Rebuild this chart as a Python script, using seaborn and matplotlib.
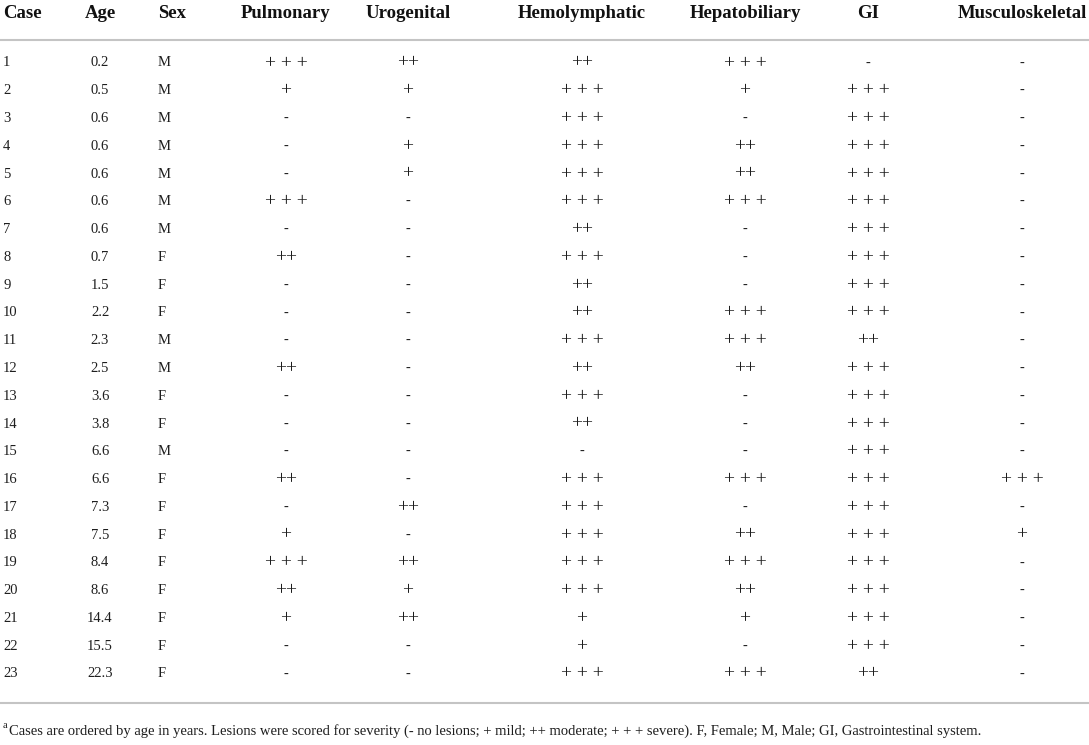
# plot.py
"""Lesion severity table by case, drawn as text on a blank seaborn canvas."""

import pandas as pd
import seaborn as sns
import matplotlib.pyplot as plt

# table data
cases = list(range(1, 24))
ages = [0.2, 0.5, 0.6, 0.6, 0.6, 0.6, 0.6, 0.7, 1.5, 2.2, 2.3, 2.5,
        3.6, 3.8, 6.6, 6.6, 7.3, 7.5, 8.4, 8.6, 14.4, 15.5, 22.3]
sexes = ['M', 'M', 'M', 'M', 'M', 'M', 'M', 'F', 'F', 'F', 'M', 'M',
         'F', 'F', 'M', 'F', 'F', 'F', 'F', 'F', 'F', 'F', 'F']
# severity scores: 0 none, 1 mild, 2 moderate, 3 severe
pulmonary = [3, 1, 0, 0, 0, 3, 0, 2, 0, 0, 0, 2, 0, 0, 0, 2, 0, 1, 3, 2, 1, 0, 0]
urogenital = [2, 1, 0, 1, 1, 0, 0, 0, 0, 0, 0, 0, 0, 0, 0, 0, 2, 0, 2, 1, 2, 0, 0]
hemolymphatic = [2, 3, 3, 3, 3, 3, 2, 3, 2, 2, 3, 2, 3, 2, 0, 3, 3, 3, 3, 3, 1, 1, 3]
hepatobiliary = [3, 1, 0, 2, 2, 3, 0, 0, 0, 3, 3, 2, 0, 0, 0, 3, 0, 2, 3, 2, 1, 0, 3]
gi = [0, 3, 3, 3, 3, 3, 3, 3, 3, 3, 2, 3, 3, 3, 3, 3, 3, 3, 3, 3, 3, 3, 2]
musculoskeletal = [0] * 15 + [3, 0, 1] + [0] * 5

headers = ['Case', 'Age', 'Sex', 'Pulmonary', 'Urogenital', 'Hemolymphatic',
           'Hepatobiliary', 'GI', 'Musculoskeletal']
footnote = ('Cases are ordered by age in years. Lesions were scored for severity '
            '(- no lesions; + mild; ++ moderate; + + + severe). F, Female; M, Male; '
            'GI, Gastrointestinal system.')

symbols = {0: '-', 1: '+', 2: '++', 3: '+ + +'}

df = pd.DataFrame({
    'Case': cases, 'Age': ages, 'Sex': sexes, 'Pulmonary': pulmonary,
    'Urogenital': urogenital, 'Hemolymphatic': hemolymphatic,
    'Hepatobiliary': hepatobiliary, 'GI': gi, 'Musculoskeletal': musculoskeletal,
})

# layout (pixel units of a 1089 x 745 canvas)
col_x = [3, 100, 158, 286, 408, 582, 745, 868, 1022]
col_ha = ['left', 'center', 'left'] + ['center'] * 6
header_y = 14
first_row_y = 63
row_step = 27.77
line_color = '#c4c4c4'
text_color = '#1e1e1e'

sns.set_theme(style='white')
plt.rcParams['font.family'] = ['Liberation Serif', 'DejaVu Serif']

fig = plt.figure(figsize=(10.89, 7.45), dpi=100)
ax = fig.add_axes([0, 0, 1, 1])
ax.set_xlim(0, 1089)
ax.set_ylim(745, 0)
ax.axis('off')

# header row
for x, ha, name in zip(col_x, col_ha, headers):
    ax.text(x, header_y, name, ha=ha, va='center', fontsize=13.5,
            fontweight='bold', color='#111111')

ax.axhline(40, color=line_color, lw=1.5)

# body rows
for i, row in df.iterrows():
    y = first_row_y + i * row_step
    ax.text(col_x[0], y, str(row['Case']), ha='left', va='center',
            fontsize=10.5, color=text_color)
    ax.text(col_x[1], y, f"{row['Age']:.1f}", ha='center', va='center',
            fontsize=10.5, color=text_color)
    ax.text(col_x[2], y, row['Sex'], ha='left', va='center',
            fontsize=10.5, color=text_color)
    for x, name in zip(col_x[3:], headers[3:]):
        score = row[name]
        size = 14 if score > 0 else 10.5
        ax.text(x, y, symbols[score], ha='center', va='center',
                fontsize=size, color=text_color)

ax.axhline(first_row_y + 22 * row_step + 29, color=line_color, lw=1.5)

# footnote with superscript marker
ax.text(3, 726, 'a', ha='left', va='center', fontsize=7.5, color=text_color)
ax.text(9, 731, footnote, ha='left', va='center', fontsize=10.5,
        color=text_color)

fig.savefig('out.png', dpi=100)
